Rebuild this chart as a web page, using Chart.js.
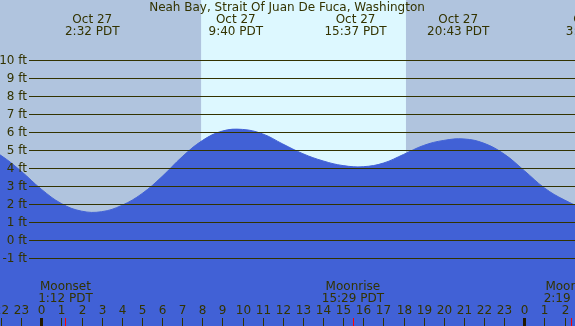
<!DOCTYPE html>
<html>
<head>
<meta charset="utf-8">
<script src="https://cdn.jsdelivr.net/npm/chart.js@4"></script>
<style>
  html, body { margin: 0; padding: 0; background: #b0c4de; }
  canvas { display: block; }
</style>
</head>
<body>
<canvas id="tide" width="575" height="326"></canvas>
<script>
var title = 'Neah Bay, Strait Of Juan De Fuca, Washington'

// hours since midnight Oct 27 and tide height (ft)
var hours = [-3, -2, -1, 0, 1, 2, 3, 4, 5, 6, 7, 8, 9, 10, 11, 12, 13, 14, 15, 16, 17, 18, 19, 20, 21, 22, 23, 24, 25, 26, 27, 28]
var tideFt = [5.35, 4.72, 3.85, 2.85, 2.05, 1.63, 1.6, 1.95, 2.6, 3.55, 4.65, 5.55, 6.08, 6.17, 5.92, 5.36, 4.82, 4.42, 4.16, 4.1, 4.3, 4.78, 5.28, 5.56, 5.64, 5.4, 4.8, 3.88, 2.92, 2.25, 1.8, 1.75]

// high / low tide labels at the top
var extremeHours = [2.533, 9.667, 15.617, 20.717, 27.417]
var extremeDates = ['Oct 27', 'Oct 27', 'Oct 27', 'Oct 27', 'Oct 28']
var extremeTimes = ['2:32 PDT', '9:40 PDT', '15:37 PDT', '20:43 PDT', '3:25 PDT']

// moon events at the bottom
var moonHours = [1.2, 15.483, 26.317]
var moonNames = ['Moonset', 'Moonrise', 'Moonset']
var moonTimes = ['1:12 PDT', '15:29 PDT', '2:19 PDT']

// daylight
var sunrise = 7.94
var sunset = 18.12

var yTicks = [-1, 0, 1, 2, 3, 4, 5, 6, 7, 8, 9, 10]
var hourTicks = [-2, -1, 0, 1, 2, 3, 4, 5, 6, 7, 8, 9, 10, 11, 12, 13, 14, 15, 16, 17, 18, 19, 20, 21, 22, 23, 24, 25, 26]

var textColor = '#333300'
var font = '12px "DejaVu Sans"'

var tidePlugin = {
    id: 'tideDecor',
    beforeDraw: function(chart) {
        var c = chart.ctx
        var xs = chart.scales.x
        c.save()
        c.fillStyle = '#b0c4de'
        c.fillRect(0, 0, chart.width, chart.height)
        var x1 = xs.getPixelForValue(sunrise)
        var x2 = xs.getPixelForValue(sunset)
        c.fillStyle = '#ddf8ff'
        c.fillRect(x1, 0, x2 - x1, chart.height)
        c.restore()
    },
    afterDatasetsDraw: function(chart) {
        var c = chart.ctx
        var xs = chart.scales.x
        var ys = chart.scales.y
        c.save()
        c.font = font
        c.fillStyle = textColor
        c.strokeStyle = textColor
        c.lineWidth = 1

        // horizontal lines + labels
        yTicks.forEach(function(v) {
            var y = Math.round(ys.getPixelForValue(v)) + 0.5
            c.beginPath()
            c.moveTo(29, y)
            c.lineTo(chart.width, y)
            c.stroke()
            c.textAlign = 'right'
            c.textBaseline = 'middle'
            c.fillText(v + ' ft', 27, y)
        })

        // title and tide extremes
        c.textAlign = 'center'
        c.textBaseline = 'middle'
        c.fillText(title, 287, 8)
        for (var i = 0; i < extremeHours.length; ++i) {
            var x = xs.getPixelForValue(extremeHours[i])
            c.fillText(extremeDates[i], x, 20)
            c.fillText(extremeTimes[i], x, 32)
        }

        // hour labels and ticks
        hourTicks.forEach(function(h) {
            var x = Math.round(xs.getPixelForValue(h))
            var lbl = ((h % 24) + 24) % 24
            c.fillStyle = textColor
            c.fillText(String(lbl), x + 0.5, 311)
            if (lbl === 0) {
                c.fillStyle = '#221a00'
                c.fillRect(x - 1, 318, 3, 8)
            } else {
                c.fillRect(x, 318, 1, 8)
            }
        })

        // moon events
        for (var j = 0; j < moonHours.length; ++j) {
            var mx = xs.getPixelForValue(moonHours[j])
            c.fillStyle = textColor
            c.fillText(moonNames[j], mx, 287)
            c.fillText(moonTimes[j], mx, 299)
            c.fillStyle = '#ff0000'
            c.fillRect(Math.round(mx), 318, 1, 8)
        }
        c.restore()
    }
}

var ctx = document.getElementById('tide')
var chart = new Chart(ctx, {
    type: 'line',
    data: {
        datasets: [{
            data: hours.map(function(h, i) { return { x: h, y: tideFt[i] } }),
            fill: 'start',
            backgroundColor: '#4161d6',
            borderColor: '#4161d6',
            borderWidth: 1,
            pointRadius: 0,
            tension: 0.4
        }]
    },
    options: {
        responsive: false,
        animation: false,
        layout: { padding: 0 },
        plugins: { legend: { display: false }, tooltip: { enabled: false } },
        scales: {
            x: { type: 'linear', display: false, min: -2.052, max: 26.52 },
            y: { type: 'linear', display: false, min: -4.75, max: 13.36 }
        }
    },
    plugins: [tidePlugin]
})
</script>
</body>
</html>
